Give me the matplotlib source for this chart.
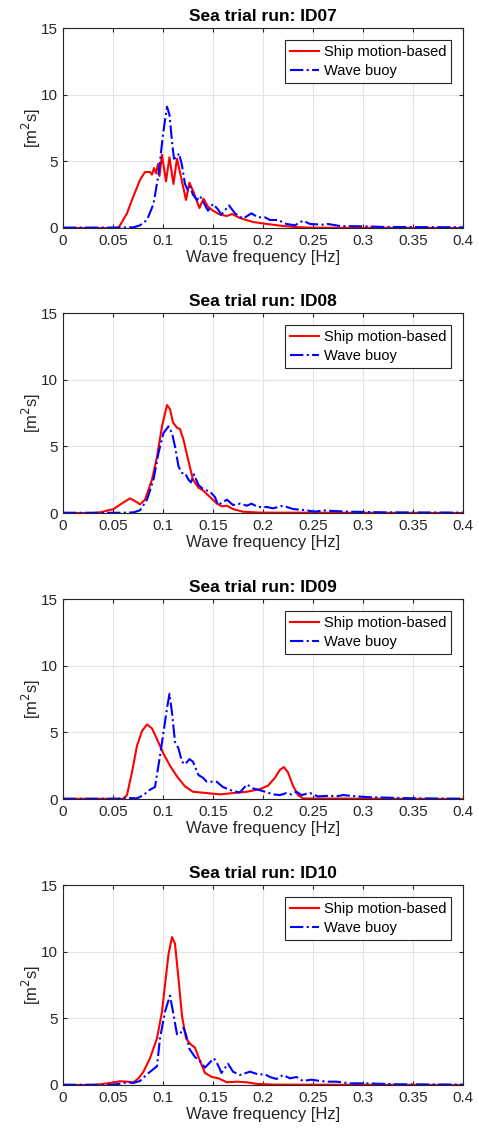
import matplotlib.pyplot as plt

plt.rcParams['font.family'] = ['Liberation Sans', 'DejaVu Sans']

runs = ['ID07', 'ID08', 'ID09', 'ID10']

# ID07
f_ship_07 = [0, 0.05, 0.0556, 0.064, 0.0705, 0.077, 0.082, 0.087, 0.089, 0.091, 0.093, 0.095, 0.0965,
             0.099, 0.103, 0.1065, 0.1105, 0.114, 0.119, 0.123, 0.1265, 0.130, 0.1365, 0.1405, 0.145,
             0.150, 0.157, 0.164, 0.169, 0.177, 0.190, 0.204, 0.220, 0.237, 0.2535, 0.4]
s_ship_07 = [0, 0, 0.02, 1.1, 2.4, 3.6, 4.2, 4.2, 4.0, 4.5, 4.1, 4.8, 3.9,
             5.5, 3.5, 5.3, 3.3, 5.2, 3.5, 2.1, 3.4, 2.8, 1.5, 2.2, 1.6,
             1.3, 1.0, 0.9, 1.05, 0.75, 0.45, 0.3, 0.15, 0.05, 0.02, 0]
f_buoy_07 = [0, 0.05, 0.0705, 0.077, 0.084, 0.0905, 0.0955, 0.1, 0.104, 0.1065, 0.109, 0.111, 0.114,
             0.116, 0.119, 0.122, 0.125, 0.127, 0.130, 0.134, 0.137, 0.140, 0.145, 0.150, 0.155,
             0.1585, 0.166, 0.172, 0.180, 0.1885, 0.195, 0.202, 0.207, 0.215, 0.2235, 0.232, 0.240,
             0.247, 0.260, 0.265, 0.277, 0.3035, 0.320, 0.4]
s_buoy_07 = [0.03, 0.03, 0.05, 0.2, 0.6, 1.8, 4.0, 7.0, 9.1, 8.5, 6.5, 5.2, 5.3,
             5.6, 4.7, 3.3, 2.8, 3.1, 2.5, 2.1, 2.4, 2.0, 1.3, 1.8, 1.4,
             1.0, 1.7, 1.1, 0.7, 1.1, 0.8, 0.8, 0.6, 0.6, 0.3, 0.2, 0.55,
             0.3, 0.25, 0.3, 0.15, 0.12, 0.08, 0.05]

# ID08
f_ship_08 = [0, 0.03, 0.037, 0.0506, 0.0606, 0.067, 0.072, 0.077, 0.082, 0.089, 0.094, 0.099, 0.104,
             0.107, 0.110, 0.114, 0.117, 0.1205, 0.1255, 0.130, 0.1355, 0.140, 0.147, 0.154, 0.159,
             0.164, 0.170, 0.180, 0.197, 0.4]
s_ship_08 = [0, 0, 0.05, 0.3, 0.8, 1.1, 0.9, 0.65, 1.0, 2.5, 4.2, 6.5, 8.1,
             7.8, 6.8, 6.4, 6.3, 5.5, 3.9, 2.5, 1.9, 1.7, 1.2, 0.7, 0.5,
             0.55, 0.3, 0.1, 0.03, 0]
f_buoy_08 = [0, 0.06, 0.0705, 0.077, 0.084, 0.0905, 0.0955, 0.1005, 0.1055, 0.109, 0.112, 0.1155, 0.119,
             0.122, 0.1255, 0.128, 0.131, 0.1355, 0.140, 0.147, 0.152, 0.155, 0.164, 0.170, 0.177,
             0.184, 0.1885, 0.195, 0.204, 0.210, 0.220, 0.230, 0.2435, 0.252, 0.260, 0.270, 0.287,
             0.320, 0.4]
s_buoy_08 = [0.02, 0.02, 0.05, 0.2, 1.0, 2.5, 4.5, 6.0, 6.5, 6.0, 5.0, 3.5, 3.0,
             3.0, 2.5, 2.3, 2.9, 2.1, 1.8, 1.6, 1.2, 0.6, 1.0, 0.6, 0.7,
             0.55, 0.7, 0.45, 0.45, 0.35, 0.55, 0.3, 0.2, 0.1, 0.2, 0.15, 0.1,
             0.05, 0.03]

# ID09
f_ship_09 = [0, 0.06, 0.0606, 0.064, 0.069, 0.074, 0.079, 0.084, 0.089, 0.094, 0.1005, 0.107, 0.114,
             0.122, 0.130, 0.1437, 0.157, 0.170, 0.184, 0.197, 0.205, 0.212, 0.217, 0.221, 0.225,
             0.230, 0.235, 0.240, 0.4]
s_ship_09 = [0.02, 0.02, 0.05, 0.3, 2.0, 4.0, 5.1, 5.6, 5.3, 4.5, 3.4, 2.5, 1.7,
             0.95, 0.55, 0.45, 0.35, 0.45, 0.55, 0.75, 1.0, 1.6, 2.2, 2.4, 2.0,
             1.0, 0.3, 0.05, 0]
f_buoy_09 = [0, 0.055, 0.062, 0.074, 0.0805, 0.087, 0.092, 0.0965, 0.1005, 0.104, 0.1065, 0.109, 0.112,
             0.1155, 0.119, 0.122, 0.1265, 0.130, 0.1355, 0.140, 0.1437, 0.1537, 0.160, 0.170, 0.177,
             0.184, 0.190, 0.200, 0.210, 0.217, 0.2235, 0.2285, 0.2335, 0.2385, 0.247, 0.255, 0.267,
             0.2735, 0.280, 0.2935, 0.3035, 0.327, 0.353, 0.4]
s_buoy_09 = [0.02, 0.02, 0.1, 0.05, 0.3, 0.7, 0.9, 3.0, 5.0, 6.8, 7.9, 6.5, 4.3,
             3.8, 2.8, 2.6, 3.0, 2.8, 1.8, 1.6, 1.3, 1.3, 0.9, 0.6, 0.5,
             1.1, 0.8, 0.6, 0.35, 0.3, 0.45, 0.35, 0.55, 0.3, 0.45, 0.2, 0.25,
             0.2, 0.3, 0.2, 0.15, 0.1, 0.05, 0.03]

# ID10
f_ship_10 = [0, 0.03, 0.037, 0.047, 0.057, 0.064, 0.0705, 0.0755, 0.0805, 0.087, 0.094, 0.099, 0.102,
             0.1055, 0.109, 0.112, 0.1155, 0.119, 0.123, 0.127, 0.132, 0.137, 0.142, 0.149, 0.1555,
             0.164, 0.174, 0.184, 0.194, 0.210, 0.4]
s_ship_10 = [0, 0, 0.05, 0.15, 0.28, 0.25, 0.2, 0.5, 1.0, 2.0, 3.5, 5.5, 7.5,
             9.8, 11.1, 10.6, 8.0, 5.2, 3.5, 3.1, 2.8, 1.8, 0.9, 0.6, 0.5,
             0.2, 0.25, 0.2, 0.08, 0.03, 0]
f_buoy_10 = [0, 0.05, 0.057, 0.064, 0.0705, 0.077, 0.084, 0.0905, 0.094, 0.097, 0.102, 0.107, 0.110,
             0.114, 0.117, 0.1205, 0.123, 0.1265, 0.132, 0.137, 0.142, 0.147, 0.151, 0.155, 0.1585,
             0.165, 0.170, 0.177, 0.187, 0.195, 0.202, 0.207, 0.2135, 0.220, 0.227, 0.2335, 0.240,
             0.2485, 0.257, 0.265, 0.2735, 0.287, 0.3035, 0.337, 0.4]
s_buoy_10 = [0.02, 0.02, 0.1, 0.2, 0.15, 0.3, 0.8, 1.2, 1.4, 3.5, 5.5, 6.7, 5.5,
             3.8, 3.8, 4.3, 3.8, 2.7, 2.1, 1.8, 1.3, 1.7, 2.0, 1.5, 0.9,
             1.6, 1.0, 0.75, 1.0, 0.8, 0.8, 0.6, 0.45, 0.75, 0.5, 0.6, 0.3,
             0.4, 0.3, 0.25, 0.25, 0.12, 0.12, 0.05, 0.03]

ship = [(f_ship_07, s_ship_07), (f_ship_08, s_ship_08), (f_ship_09, s_ship_09), (f_ship_10, s_ship_10)]
buoy = [(f_buoy_07, s_buoy_07), (f_buoy_08, s_buoy_08), (f_buoy_09, s_buoy_09), (f_buoy_10, s_buoy_10)]

xticks = [0, 0.05, 0.1, 0.15, 0.2, 0.25, 0.3, 0.35, 0.4]
xticklabels = ['0', '0.05', '0.1', '0.15', '0.2', '0.25', '0.3', '0.35', '0.4']
yticks = [0, 5, 10, 15]

fig = plt.figure(figsize=(4.79, 11.36), dpi=100)
bottoms = [0.7993, 0.5484, 0.2966, 0.0449]
txt = '#262626'

for i in range(4):
    ax = fig.add_axes([0.1315, bottoms[i], 0.835, 0.176])
    ax.plot(ship[i][0], ship[i][1], color='red', lw=1.5, label='Ship motion-based')
    ax.plot(buoy[i][0], buoy[i][1], color='blue', lw=1.5, linestyle='-.', label='Wave buoy')
    ax.set_xlim(0, 0.4)
    ax.set_ylim(0, 15)
    ax.set_xticks(xticks)
    ax.set_xticklabels(xticklabels)
    ax.set_yticks(yticks)
    ax.grid(True, color='#e3e3e3', lw=0.8)
    ax.set_axisbelow(True)
    ax.tick_params(direction='in', top=True, right=True, labelsize=11, colors=txt, length=3, pad=4)
    for sp in ax.spines.values():
        sp.set_color('#262626')
        sp.set_linewidth(0.8)
    ax.set_xlabel('Wave frequency [Hz]', fontsize=12, color=txt, labelpad=2)
    ax.set_ylabel('[m$^2$s]', fontsize=12, color=txt, labelpad=-2)
    ax.set_title('Sea trial run: ' + runs[i], fontsize=12.5, fontweight='bold', pad=5)
    leg = ax.legend(loc='upper right', fontsize=10.5, fancybox=False, framealpha=1,
                    edgecolor='#262626', borderaxespad=0.8, handlelength=2.0,
                    labelspacing=0.35, borderpad=0.35, handletextpad=0.3)
    leg.get_frame().set_linewidth(0.8)

fig.savefig('out.png', dpi=100)
